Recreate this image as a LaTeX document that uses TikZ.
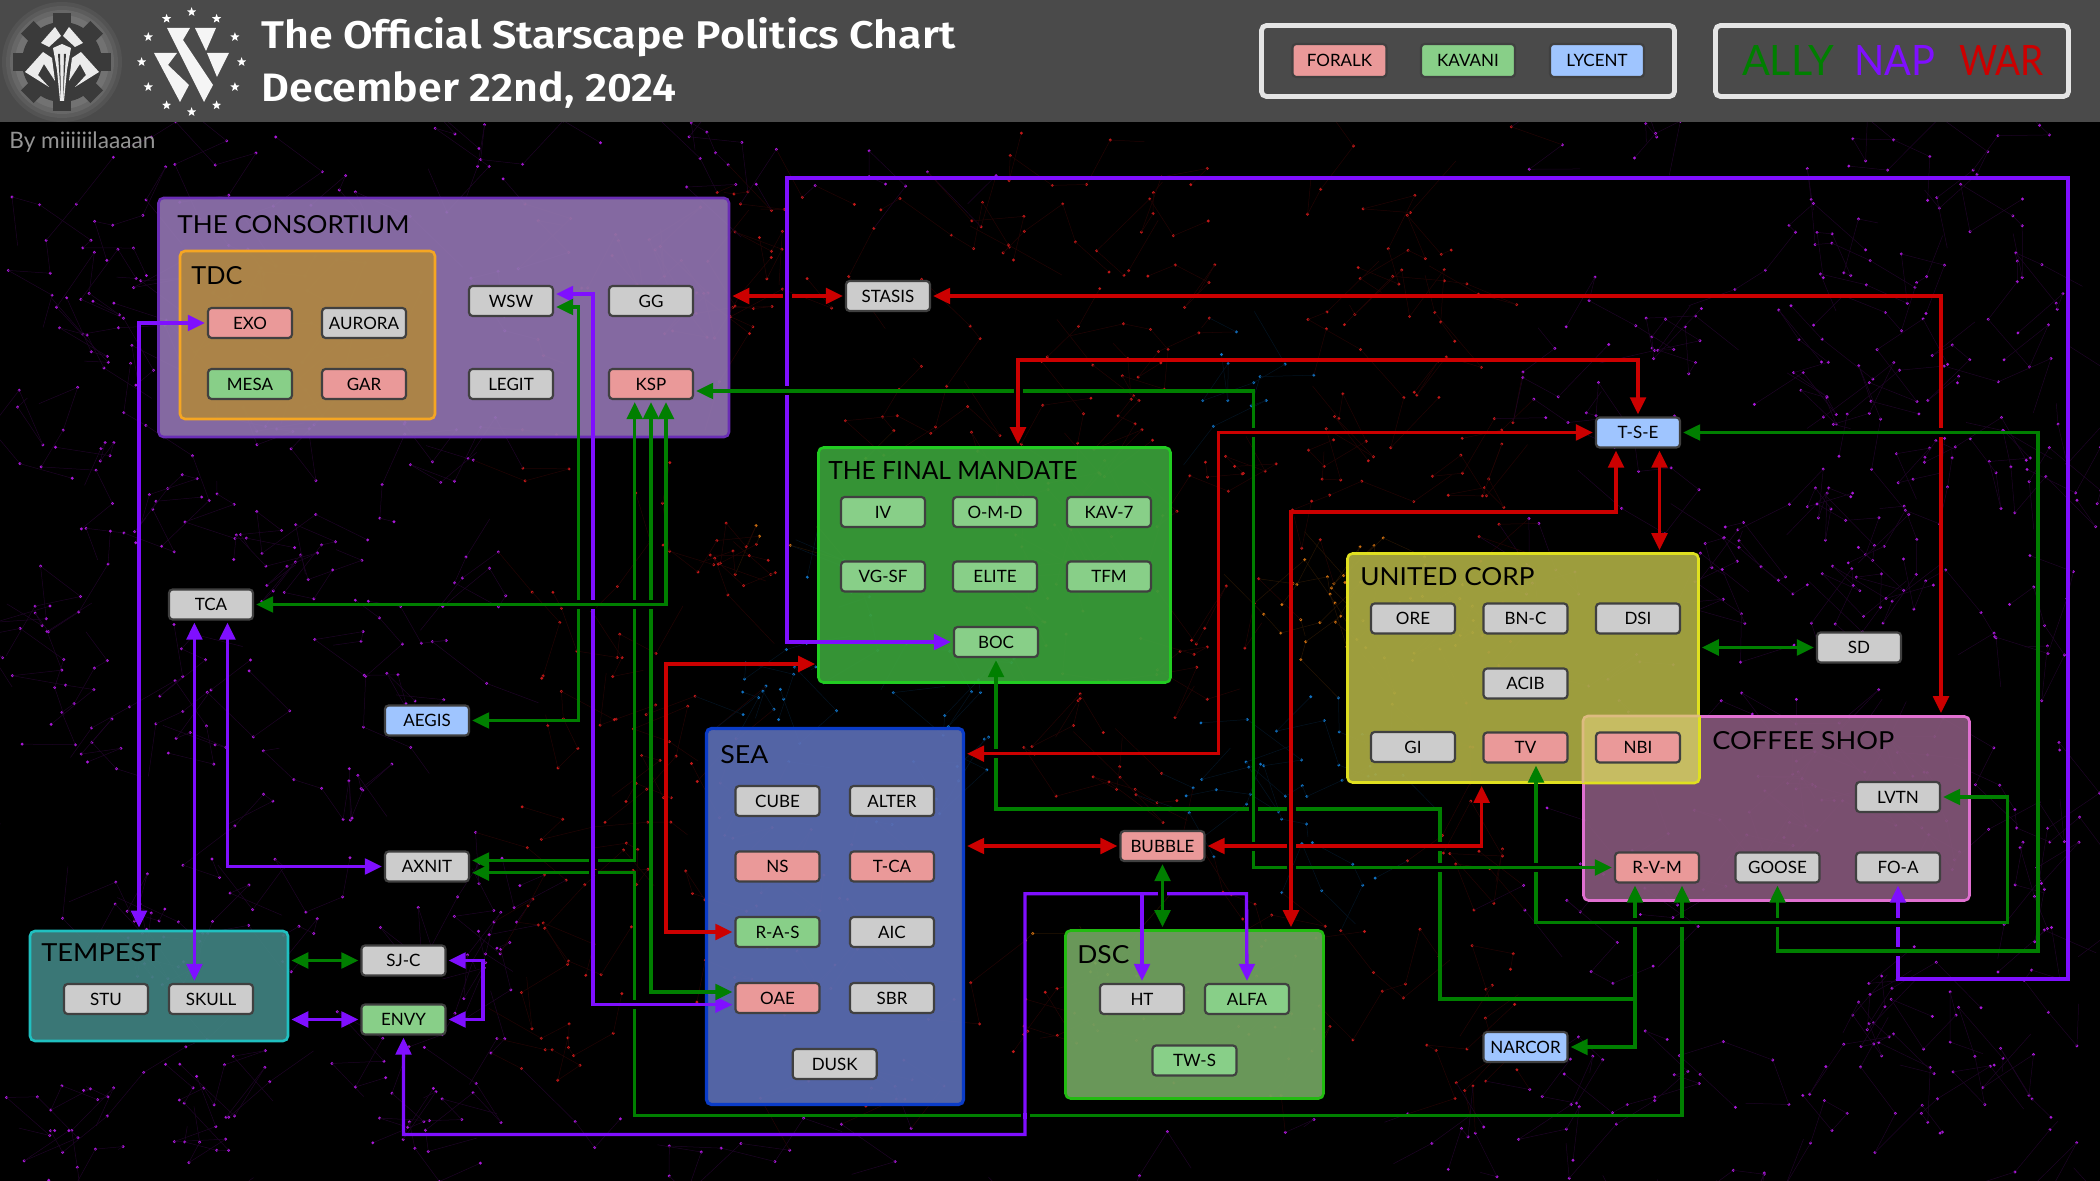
\documentclass[tikz,border=0pt]{standalone}
\usepackage{fontspec}
\usepackage{graphicx}
\usetikzlibrary{arrows.meta,shapes.geometric}
\setmainfont{Lato}
\newfontfamily\titlefont{Fira Sans}[BoldFont={Fira Sans SemiBold}]
\definecolor{hdr}{HTML}{4A4A4A}
\definecolor{cgreen}{HTML}{007F00}
\definecolor{cpurple}{HTML}{7F0FFF}
\definecolor{cred}{HTML}{CC0000}
\definecolor{ngrey}{HTML}{CCCCCC}
\definecolor{nred}{HTML}{EA9999}
\definecolor{ngreen}{HTML}{88CF88}
\definecolor{nblue}{HTML}{9FC5FF}
\definecolor{nline}{HTML}{404040}
\definecolor{gcons}{HTML}{8F72AE}\definecolor{gtdc}{HTML}{AE8642}
\definecolor{gfm}{HTML}{3A9F3A}\definecolor{guc}{HTML}{A9A942}
\definecolor{gcs}{HTML}{835578}\definecolor{gsea}{HTML}{5A6CB2}
\definecolor{gdsc}{HTML}{71A360}\definecolor{gtmp}{HTML}{3F817F}
\definecolor{bcons}{HTML}{6A2DB5}\definecolor{btdc}{HTML}{F5A623}
\definecolor{bfm}{HTML}{22CC22}\definecolor{buc}{HTML}{E0E020}
\definecolor{bcs}{HTML}{E070D0}\definecolor{bsea}{HTML}{0A3CC8}
\definecolor{bdsc}{HTML}{22BB11}\definecolor{btmp}{HTML}{20C0C0}
\definecolor{ovl}{HTML}{C6BC62}\definecolor{ovb}{HTML}{DDBB80}
\tikzset{
  x=0.5pt,y=-0.5pt,
  fac/.style={draw=nline,line width=1.1pt,rounded corners=1.8pt,minimum width=42pt,minimum height=15pt,inner sep=0pt,font=\fontsize{8.5}{10}\selectfont,text=black},
  fg/.style={fac,fill=ngrey},
  fr/.style={fac,fill=nred},
  fv/.style={fac,fill=ngreen},
  fb/.style={fac,fill=nblue},
  grp/.style={rounded corners=2.5pt,line width=1.3pt,inner sep=0pt,fill opacity=.93},
  grplabel/.style={anchor=base west,inner sep=0pt,text=black},
  conn/.style={line width=1.65pt,>={Triangle[length=8.5pt,width=7.8pt]},shorten >=1pt,shorten <=1pt},
  gr/.style={conn,cgreen},
  pu/.style={conn,cpurple},
  rd/.style={conn,cred},
}
\newcommand{\gapV}[3]{\fill[black] (#1-2.5,#2-4.5) rectangle (#1+2.5,#2+4.5);\draw[#3,line width=1.65pt] (#1-3,#2) -- (#1+3,#2);}
\newcommand{\gapH}[3]{\fill[black] (#1-4.5,#2-2.5) rectangle (#1+4.5,#2+2.5);\draw[#3,line width=1.65pt] (#1,#2-3) -- (#1,#2+3);}
\newcommand{\wstar}[2]{\node[star,star points=5,star point ratio=2.4,fill=white,inner sep=0pt,minimum size=4.8pt] at (#1,#2) {};}
\newcommand{\glabel}[2]{\resizebox{#1pt}{9pt}{\fontsize{12.5}{14}\selectfont #2}}
\begin{document}
\begin{tikzpicture}
\useasboundingbox (0,0) rectangle (2100,1181);
\fill[black] (0,0) rectangle (2100,1181);
% starfield
\pgfmathsetseed{4217}
\foreach \w in {1,...,320}{
  \pgfmathsetmacro{\px}{2100*rnd}
  \pgfmathsetmacro{\py}{125+1056*rnd}
  \foreach \s in {1,...,6}{
    \pgfmathsetmacro{\qx}{\px+110*(rnd-.5)}
    \pgfmathsetmacro{\qy}{\py+110*(rnd-.5)}
    \pgfmathparse{ifthenelse(\qx<520||\qx>1520||\qy>1110||(\qy<190&&\qx<1000),1,
      ifthenelse(veclen(\qx-880,\qy-690)<140||veclen(\qx-1300,\qy-790)<120||veclen(\qx-1250,\qy-390)<70,2,
      ifthenelse(veclen(\qx-1370,\qy-640)<110||veclen(\qx-1090,\qy-890)<90||veclen(\qx-800,\qy-480)<70,3,4)))}
    \edef\k{\pgfmathresult}
    \ifdim\k pt<1.5pt \def\cc{A818D8}\else\ifdim\k pt<2.5pt \def\cc{1070C0}\else\ifdim\k pt<3.5pt \def\cc{D07010}\else \def\cc{C01818}\fi\fi\fi
    \definecolor{dotc}{HTML}{\cc}
    \draw[dotc!18!black,line width=.25pt] (\px,\py) -- (\qx,\qy);
    \fill[dotc] (\qx,\qy) circle (.8pt);
    \global\let\px\qx \global\let\py\qy
  }
}
% header
\fill[hdr] (0,0) rectangle (2100,122);
% left logo
\fill[white!5!hdr] (62,62) circle (60);
\fill[white!10!hdr] (62,62) circle (56);
\fill[white!16!hdr] (62,62) circle (52);
\fill[white!22!hdr] (62,62) circle (47);
\foreach \a in {0,45,...,315}{\fill[black!22!hdr,rotate around={\a:(62,62)}] (53,13) rectangle (71,30);}
\fill[black!22!hdr] (62,62) circle (40);
\fill[white!92!black] (55,27) -- (61,36) -- (49,47) -- (41,43) -- cycle;
\fill[white!92!black] (69,27) -- (63,36) -- (75,47) -- (83,43) -- cycle;
\fill[white!92!black] (53,48) -- (62,44) -- (71,48) -- (67,70) -- (64,101) -- (60,101) -- (57,70) -- cycle;
\fill[black!22!hdr] (58,54) -- (60,54) -- (61,98) -- cycle;
\fill[black!22!hdr] (66,54) -- (64,54) -- (63,98) -- cycle;
\fill[white!92!black] (43,52) -- (25,72) -- (49,87) -- (38,75) -- (44,64) -- (55,81) -- (52,58) -- cycle;
\fill[white!92!black] (81,52) -- (99,72) -- (75,87) -- (86,75) -- (80,64) -- (69,81) -- (72,58) -- cycle;
% right logo
\foreach \a in {0,30,...,330}{\pgfmathsetmacro{\sx}{191.6+50*sin(\a)}\pgfmathsetmacro{\sy}{62-50*cos(\a)}\wstar{\sx}{\sy}}
\fill[white!96!black] (167,28) -- (190,28) -- (183,40) -- (213,85) -- (204,102) -- cycle;
\fill[white!96!black] (195,28) -- (216,28) -- (206,51) -- cycle;
\fill[white!96!black] (154,53) -- (177,53) -- (168,65) -- (189,85) -- (180,102) -- cycle;
\fill[white!96!black] (207,53) -- (229,53) -- (217,77) -- cycle;
% titles
\node[anchor=base west,inner sep=0pt,text=white] (t1) at (261,49) {\resizebox{347pt}{15.5pt}{\titlefont\bfseries The Official Starscape Politics Chart}};
\node[anchor=base west,inner sep=0pt,text=white] (t2) at (261,102) {\resizebox{207.5pt}{15pt}{\titlefont\bfseries December 22nd, 2024}};
\node[anchor=base west,inner sep=0pt,text=white!58!black] (by) at (9,149) {\resizebox{73pt}{!}{\fontsize{11}{13}\selectfont By miiiiiilaaaan}};
% legends
\node[draw=white!90!black,line width=2.4pt,rounded corners=2.5pt,minimum width=206.5pt,minimum height=35.5pt,inner sep=0pt] (leg1) at (1468,61) {};
\node[draw=white!90!black,line width=2.4pt,rounded corners=2.5pt,minimum width=176.5pt,minimum height=35.5pt,inner sep=0pt] (leg2) at (1892,61) {};
\node[fr,minimum width=47pt,minimum height=16.5pt] (lfor) at (1339.5,60.5) {FORALK};
\node[fv,minimum width=47pt,minimum height=16.5pt] (lkav) at (1468,60.5) {KAVANI};
\node[fb,minimum width=47pt,minimum height=16.5pt] (llyc) at (1597,60.5) {LYCENT};
\node[anchor=base,inner sep=0pt,text=cgreen] (ally) at (1788,76) {\resizebox{46pt}{15pt}{ALLY}};
\node[anchor=base,inner sep=0pt,text=cpurple] (nap) at (1894.5,76) {\resizebox{40.5pt}{15pt}{NAP}};
\node[anchor=base,inner sep=0pt,text=cred] (war) at (2001.5,76) {\resizebox{42.5pt}{15pt}{WAR}};
% groups
\node[grp,draw=bcons,fill=gcons,minimum width=285.25pt,minimum height=119.5pt] (cons) at (443.75,317.5) {};
\node[grp,draw=btdc,fill=gtdc,minimum width=127.5pt,minimum height=84pt] (tdc) at (307.5,335) {};
\node[grp,draw=bfm,fill=gfm,minimum width=176pt,minimum height=117.5pt] (fm) at (994.5,565) {};
\node[grp,draw=bcs,fill=gcs,minimum width=193pt,minimum height=92pt] (cs) at (1776.5,808.5) {};
\node[grp,draw=buc,fill=guc,minimum width=175.5pt,minimum height=114.5pt] (uc) at (1523,668) {};
\fill[ovl,rounded corners=2.5pt] (1583,716) rectangle (1699.5,783);
\draw[buc,line width=1.3pt,rounded corners=2.5pt] (1583,783) -- (1699.5,783) -- (1699.5,716);
\draw[ovb,line width=1.3pt,rounded corners=2.5pt] (1583,783) -- (1583,716) -- (1699.5,716);
\node[grp,draw=bsea,fill=gsea,line width=1.6pt,minimum width=128.5pt,minimum height=188pt] (sea) at (835,916.5) {};
\node[grp,draw=bdsc,fill=gdsc,minimum width=129pt,minimum height=84pt] (dsc) at (1194.5,1014.5) {};
\node[grp,draw=btmp,fill=gtmp,minimum width=129pt,minimum height=55pt] (tmp) at (159,986) {};
\node[grplabel] (lcons) at (177,234) {\glabel{116}{THE CONSORTIUM}};
\node[grplabel] (ltdc) at (191,285) {\glabel{25.5}{TDC}};
\node[grplabel] (lfm) at (828,480) {\glabel{124.5}{THE FINAL MANDATE}};
\node[grplabel] (luc) at (1360,586) {\glabel{87}{UNITED CORP}};
\node[grplabel] (lcs) at (1712,750) {\glabel{91}{COFFEE SHOP}};
\node[grplabel] (lsea) at (720,764) {\glabel{24}{SEA}};
\node[grplabel] (ldsc) at (1077,963) {\glabel{26}{DSC}};
\node[grplabel] (ltmp) at (41,961.5) {\glabel{60}{TEMPEST}};
% factions
\node[fr] (exo) at (250,323) {EXO};
\node[fg] (aurora) at (364,323) {AURORA};
\node[fv] (mesa) at (250,384) {MESA};
\node[fr] (gar) at (364,384) {GAR};
\node[fg] (wsw) at (511,301) {WSW};
\node[fg] (gg) at (651,301) {GG};
\node[fg] (legit) at (511,384) {LEGIT};
\node[fr] (ksp) at (651,384) {KSP};
\node[fg] (stasis) at (888,296) {STASIS};
\node[fb] (tse) at (1638,432.5) {T-S-E};
\node[fv] (iv) at (883,512) {IV};
\node[fv] (omd) at (995,512) {O-M-D};
\node[fv] (kav) at (1109,512) {KAV-7};
\node[fv] (vgsf) at (883,576.5) {VG-SF};
\node[fv] (elite) at (995,576.5) {ELITE};
\node[fv] (tfm) at (1109,576.5) {TFM};
\node[fv] (boc) at (996,642) {BOC};
\node[fg] (ore) at (1413,618.5) {ORE};
\node[fg] (bnc) at (1525.5,618.5) {BN-C};
\node[fg] (dsi) at (1638,618.5) {DSI};
\node[fg] (acib) at (1525.5,683.5) {ACIB};
\node[fg] (gi) at (1413,747) {GI};
\node[fr] (tv) at (1525.5,747.5) {TV};
\node[fr] (nbi) at (1638,747.5) {NBI};
\node[fg] (sd) at (1859,647.5) {SD};
\node[fg] (lvtn) at (1898,797) {LVTN};
\node[fr] (rvm) at (1657,867.5) {R-V-M};
\node[fg] (goose) at (1777.5,867.5) {GOOSE};
\node[fg] (foa) at (1898,867.5) {FO-A};
\node[fg] (cube) at (777.5,801) {CUBE};
\node[fg] (alter) at (892,801) {ALTER};
\node[fr] (ns) at (777.5,866.5) {NS};
\node[fr] (tca2) at (892,866.5) {T-CA};
\node[fv] (ras) at (777.5,932) {R-A-S};
\node[fg] (aic) at (892,932) {AIC};
\node[fr] (oae) at (777.5,998) {OAE};
\node[fg] (sbr) at (892,998) {SBR};
\node[fg] (dusk) at (834.7,1064) {DUSK};
\node[fg] (ht) at (1142,999) {HT};
\node[fv] (alfa) at (1247,999) {ALFA};
\node[fv] (tws) at (1194.5,1060.5) {TW-S};
\node[fr] (bubble) at (1162.5,846) {BUBBLE};
\node[fb] (narcor) at (1525.5,1047) {NARCOR};
\node[fg] (tca) at (211,604.5) {TCA};
\node[fb] (aegis) at (427,720.5) {AEGIS};
\node[fg] (axnit) at (427,866.5) {AXNIT};
\node[fg] (stu) at (106,999) {STU};
\node[fg] (skull) at (211,999) {SKULL};
\node[fg] (sjc) at (403.5,960.5) {SJ-C};
\node[fv] (envy) at (403.5,1019.5) {ENVY};
% connectors
\draw[rd,<->] (stasis.west) -- (cons.east |- stasis.west);
\draw[rd,<->] (stasis.east) -- (1941,296) -- (1941,296 |- cs.north);
\draw[pu,<->] (exo.west) -- (139,323) -- (139,323 |- tmp.north);
\draw[pu,<->] (wsw.east |- 0,294) -- (593,294) -- (593,1004.7) -- (oae.west |- 0,1004.7);
\draw[gr,<->] (wsw.east |- 0,307) -- (578.5,307) -- (578.5,720.5) -- (aegis.east);
\draw[gr,<->] (666,0 |- ksp.south) -- (666,604.5) -- (tca.east);
\draw[gr,<->] (634.7,0 |- ksp.south) -- (634.7,860.5) -- (axnit.east |- 0,860.5);
\draw[gr,<->] (651,0 |- ksp.south) -- (651,992) -- (oae.west |- 0,992);
\draw[gr,<->] (axnit.east |- 0,872.7) -- (634.7,872.7) -- (634.7,1115.7) -- (1682,1115.7) -- (1682,0 |- rvm.south);
\draw[gr,<->] (ksp.east |- 0,391) -- (1253.5,391) -- (1253.5,867.5) -- (rvm.west);
\draw[pu,<->] (227.5,0 |- tca.south) -- (227.5,866.5) -- (axnit.west);
\draw[pu,<->] (194.4,0 |- tca.south) -- (194.4,0 |- skull.north);
\draw[gr,<->] (tmp.east |- sjc.west) -- (sjc.west);
\draw[pu,<->] (tmp.east |- envy.west) -- (envy.west);
\draw[pu,<->] (sjc.east) -- (483,960.5) -- (483,1019.5) -- (envy.east);
\coordinate (jenvy) at (1025,893.7);
\draw[pu,<->] (envy.south) -- (403.5,1134.5) -- (1025,1134.5) -- (jenvy) -- (1246.5,893.7) -- (alfa.north);
\draw[pu,->] (jenvy) -- (1142,893.7) -- (ht.north);
\draw[gr,<->] (bubble.south) -- (bubble.south |- dsc.north);
\draw[rd,<->] (sea.east |- bubble.west) -- (bubble.west);
\draw[rd,<->] (bubble.east) -- (1481.6,846) -- (1481.6,0 |- uc.south);
\draw[rd,<->] (1291,0 |- dsc.north) -- (1291,512) -- (1616,512) -- (1616,0 |- tse.south);
\draw[rd,<->] (1659.5,0 |- tse.south) -- (1659.5,0 |- uc.north);
\draw[rd,<->] (sea.east |- 0,753.7) -- (1218.4,753.7) -- (1218.4,432.5) -- (tse.west);
\draw[rd,<->] (1018,0 |- fm.north) -- (1018,360) -- (1638,360) -- (tse.north);
\draw[rd,<->] (fm.west |- 0,664) -- (666,664) -- (666,932) -- (ras.west);
\draw[pu,<->] (boc.west) -- (787,642) -- (787,178) -- (2068,178) -- (2068,979) -- (1898,979) -- (foa.south);
\coordinate (jrvm) at (1635,999);
\draw[gr,<-] (boc.south) -- (996,809) -- (1440,809) -- (1440,999) -- (jrvm);
\draw[gr,<->] (1635,0 |- rvm.south) -- (1635,1047) -- (narcor.east);
\draw[gr,<->] (1536,0 |- tv.south) -- (1536,922.3) -- (2007.6,922.3) -- (2007.6,797) -- (lvtn.east);
\draw[gr,<->] (goose.south) -- (1777.5,951) -- (2038,951) -- (2038,432.5) -- (tse.east);
\draw[gr,<->] (uc.east |- sd.west) -- (sd.west);
% line gaps
\gapH{787}{296}{cpurple}
\gapH{593}{860.5}{cpurple}
\gapH{593}{872.7}{cpurple}
\gapH{1018}{391}{cred}
\gapH{1253.5}{809}{cgreen}
\gapH{1291}{809}{cred}
\gapH{1291}{846}{cred}
\gapH{1291}{867.5}{cred}
\gapH{1025}{1115.7}{cpurple}
\gapH{1162.5}{893.7}{cgreen}
\gapV{787}{391}{cgreen}
\gapV{578.5}{604.5}{cgreen}
\gapV{593}{604.5}{cgreen}
\gapV{634.7}{604.5}{cgreen}
\gapV{651}{604.5}{cgreen}
\gapV{634.7}{1004.7}{cpurple}
\gapV{996}{753.7}{cred}
\gapV{1253.5}{432.5}{cred}
\gapV{1253.5}{846}{cred}
\gapV{1440}{846}{cred}
\gapV{1440}{867.5}{cgreen}
\gapV{1536}{867.5}{cgreen}
\gapV{1635}{922.3}{cgreen}
\gapV{1682}{922.3}{cgreen}
\gapV{1777.5}{922.3}{cgreen}
\gapV{1898}{922.3}{cgreen}
\gapV{1898}{951}{cgreen}
\gapV{1941}{432.5}{cgreen}
\end{tikzpicture}
\end{document}
